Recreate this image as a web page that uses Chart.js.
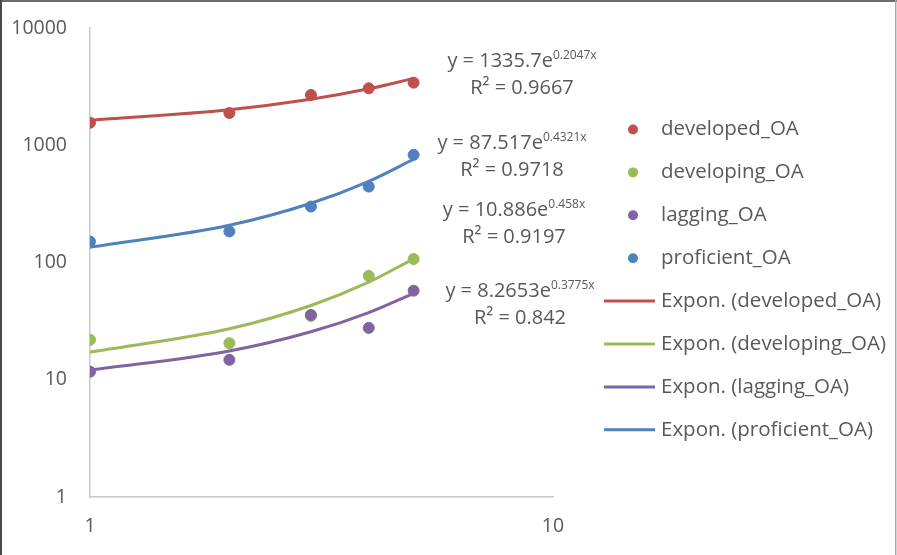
<!DOCTYPE html>
<html>
<head>
<meta charset="utf-8">
<style>
  html, body { margin: 0; padding: 0; background: #fff; }
  #wrap { position: relative; width: 897px; height: 555px; }
</style>
</head>
<body>
<div id="wrap"><canvas id="myChart"></canvas></div>
<script src="https://cdn.jsdelivr.net/npm/chart.js@4/dist/chart.umd.min.js"></script>
<script>
// values
const xValues = [1, 2, 3, 4, 5];
const seriesNames = ["developed_OA", "developing_OA", "lagging_OA", "proficient_OA"];
const developed = [1556, 1884, 2684, 3062, 3420];
const developing = [21.9, 20.5, 35, 76.9, 107];
const lagging = [11.7, 14.8, 35.7, 27.7, 57.5];
const proficient = [151, 184, 300, 444, 828];

// trendline equations as printed on the chart: y = a * e^(b x)
const trendA = [1335.7, 10.886, 8.2653, 87.517];
const trendB = [0.2047, 0.458, 0.3775, 0.4321];
const rSquared = ["0.9667", "0.9197", "0.842", "0.9718"];

const xTicks = [1, 10];
const yTicks = [1, 10, 100, 1000, 10000];

const colors = ["#C0504D", "#9BBB59", "#8064A2", "#4F81BD"];
const textColor = "#595959";
const fontFamily = "'Open Sans', sans-serif";

// where the equation labels sit (centre x, first line y)
const eqPos = [
  { cx: 522, y: 61 },
  { cx: 514, y: 210 },
  { cx: 520, y: 291 },
  { cx: 512, y: 143 },
];

const seriesValues = [developed, developing, lagging, proficient];
const pointOrder = [2, 4, 3, 1];

const datasets = [];
seriesNames.forEach((name, i) => {
  datasets.push({
    type: "scatter",
    label: name,
    data: xValues.map((x, j) => ({ x, y: seriesValues[i][j] })),
    backgroundColor: colors[i],
    borderColor: colors[i],
    pointRadius: 5.5,
    pointHoverRadius: 5.5,
    order: pointOrder[i],
  });
});
seriesNames.forEach((name, i) => {
  datasets.push({
    type: "line",
    label: "Expon. (" + name + ")",
    data: xValues.map((x) => ({ x, y: trendA[i] * Math.exp(trendB[i] * x) })),
    borderColor: colors[i],
    backgroundColor: colors[i],
    borderWidth: 3,
    pointRadius: 0,
    fill: false,
    cubicInterpolationMode: "monotone",
    order: 10,
  });
});

const frame = {
  id: "frame",
  beforeDraw(chart) {
    const ctx = chart.ctx;
    ctx.save();
    ctx.fillStyle = "#fff";
    ctx.fillRect(0, 0, chart.width, chart.height);
    ctx.restore();
  },
  afterDraw(chart) {
    const ctx = chart.ctx;
    ctx.save();
    ctx.fillStyle = "#6b6b6b";
    ctx.fillRect(0, 0, chart.width, 2);
    ctx.fillStyle = "#4a4a4a";
    ctx.fillRect(0, 0, 2, chart.height);
    ctx.fillStyle = "#ababab";
    ctx.fillRect(chart.width - 2, 0, 1.5, chart.height);
    ctx.restore();
  },
};

const equations = {
  id: "equations",
  afterDatasetsDraw(chart) {
    const ctx = chart.ctx;
    ctx.save();
    ctx.fillStyle = textColor;
    ctx.textBaseline = "middle";
    ctx.textAlign = "left";
    seriesNames.forEach((name, i) => {
      const base = "y = " + String(trendA[i]) + "e";
      const sup = String(trendB[i]) + "x";
      ctx.font = "20px " + fontFamily;
      const wBase = ctx.measureText(base).width;
      ctx.font = "12px " + fontFamily;
      const wSup = ctx.measureText(sup).width;
      const left = eqPos[i].cx - (wBase + wSup) / 2;
      ctx.font = "20px " + fontFamily;
      ctx.fillText(base, left, eqPos[i].y);
      ctx.font = "12px " + fontFamily;
      ctx.fillText(sup, left + wBase, eqPos[i].y - 5);
      ctx.font = "20px " + fontFamily;
      ctx.textAlign = "center";
      ctx.fillText("R² = " + rSquared[i], eqPos[i].cx, eqPos[i].y + 27);
      ctx.textAlign = "left";
    });
    ctx.restore();
  },
};

const sideLegend = {
  id: "sideLegend",
  afterDraw(chart) {
    const ctx = chart.ctx;
    const items = chart.data.datasets;
    ctx.save();
    ctx.font = "20.5px " + fontFamily;
    ctx.textBaseline = "middle";
    ctx.textAlign = "left";
    items.forEach((ds, k) => {
      const y = 129.5 + k * 42.9;
      if (ds.type === "scatter") {
        ctx.fillStyle = ds.backgroundColor;
        ctx.beginPath();
        ctx.arc(633, y, 5, 0, Math.PI * 2);
        ctx.fill();
      } else {
        ctx.strokeStyle = ds.borderColor;
        ctx.lineWidth = 3;
        ctx.beginPath();
        ctx.moveTo(604, y);
        ctx.lineTo(655, y);
        ctx.stroke();
      }
      ctx.fillStyle = textColor;
      ctx.fillText(ds.label, 661, y);
    });
    ctx.restore();
  },
};

function powerOfTen(v) {
  const l = Math.log10(v);
  return Math.abs(l - Math.round(l)) < 1e-9;
}

const ctx = document.getElementById("myChart").getContext("2d");
const myChart = new Chart(ctx, {
  type: "scatter",
  data: { datasets },
  options: {
    responsive: true,
    maintainAspectRatio: false,
    animation: false,
    layout: { padding: { top: 28, right: 344, bottom: 0, left: 0 } },
    plugins: {
      legend: { display: false },
      tooltip: { enabled: false },
    },
    scales: {
      x: {
        type: "logarithmic",
        min: xTicks[0],
        max: xTicks[xTicks.length - 1],
        grid: { display: false, drawTicks: true, tickLength: 13 },
        border: { display: true, color: "#c8c8c8", width: 1.5 },
        afterFit: (scale) => { scale.height = 58; },
        ticks: {
          autoSkip: false,
          maxRotation: 0,
          padding: 5,
          color: textColor,
          font: { family: fontFamily, size: 19.5 },
          callback: (v) => (xTicks.includes(v) ? String(v) : null),
        },
      },
      y: {
        type: "logarithmic",
        min: yTicks[0],
        max: yTicks[yTicks.length - 1],
        grid: { display: false, drawTicks: true, tickLength: 19 },
        border: { display: true, color: "#c8c8c8", width: 1.5 },
        afterFit: (scale) => { scale.width = 90; },
        ticks: {
          autoSkip: false,
          padding: 4,
          color: textColor,
          font: { family: fontFamily, size: 19.5 },
          callback: (v) => (yTicks.includes(v) && powerOfTen(v) ? String(v) : null),
        },
      },
    },
  },
  plugins: [frame, equations, sideLegend],
});
</script>
</body>
</html>
